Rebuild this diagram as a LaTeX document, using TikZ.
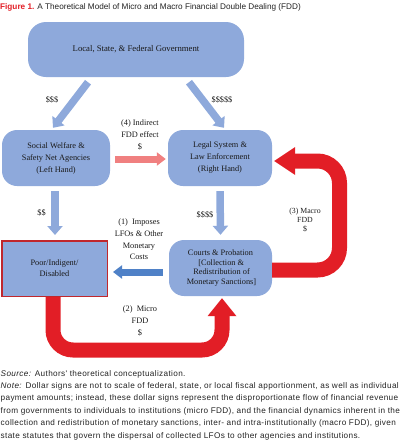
\documentclass[tikz,border=0pt]{standalone}
\usepackage{fontspec}
\setmainfont{Liberation Serif}
\newfontfamily\capfont{Liberation Sans}
\newfontfamily\notefont[LetterSpace=4.3]{Liberation Sans}
\usetikzlibrary{arrows.meta,calc}
\definecolor{boxblue}{RGB}{142,169,219}
\definecolor{fddred}{RGB}{226,30,38}
\definecolor{pinkarr}{RGB}{240,128,128}
\definecolor{darkblue}{RGB}{79,129,199}
\definecolor{borderred}{RGB}{192,39,45}
\definecolor{notegray}{RGB}{35,35,35}
\begin{document}
\begin{tikzpicture}[x=1pt,y=-1pt,
  box/.style={fill=boxblue, draw=none, align=center, inner sep=0pt,
    font=\fontsize{8.3}{12}\selectfont, text=black!90},
  rbox/.style={box, rounded corners=15pt},
  lab/.style={align=center, inner sep=0pt, font=\fontsize{8.3}{11.8}\selectfont, text=black!90},
  bluearr/.style={line width=7.5pt, draw=boxblue, -{Triangle[width=15pt,length=9pt]}},
  pinkarrow/.style={line width=7pt, draw=pinkarr, -{Triangle[width=13pt,length=9pt]}},
  darkarrow/.style={line width=7pt, draw=darkblue, -{Triangle[width=13pt,length=9pt]}},
  redarrow/.style={line width=15pt, draw=fddred, rounded corners=22pt},
  noteline/.style={anchor=base west, inner sep=0pt, font=\notefont\fontsize{8.2}{10}\selectfont, text=notegray},
]
\useasboundingbox (0,0) rectangle (406,440);

% title
\node[anchor=base west, inner sep=0pt, font=\capfont\fontsize{8.2}{10}\selectfont, text=notegray] (title) at (0,9)
  {\textcolor{fddred}{\bfseries Figure 1.} A Theoretical Model of Micro and Macro Financial Double Dealing (FDD)};

% boxes
\node[rbox, rounded corners=18pt, minimum width=216pt, minimum height=55pt, font=\fontsize{8.7}{12}\selectfont] (gov) at (136,49.5)
  {Local, State, \& Federal Government};
\node[rbox, minimum width=108pt, minimum height=56pt] (sw) at (56,158)
  {Social Welfare \&\\Safety Net Agencies\\(Left Hand)};
\node[rbox, minimum width=104pt, minimum height=56pt] (legal) at (220,158)
  {Legal System \&\\Law Enforcement\\(Right Hand)};
\node[box, draw=borderred, line width=1.5pt, minimum width=105.5pt, minimum height=55.5pt,
  font=\fontsize{8.3}{11}\selectfont] (poor) at (54.5,268.5)
  {Poor/Indigent/\\Disabled};
\node[rbox, minimum width=103pt, minimum height=56pt, font=\fontsize{8.3}{9.7}\selectfont] (courts) at (220.5,268)
  {Courts \& Probation\\ \,[Collection \&\\ \ Redistribution of\\ \ Monetary Sanctions]};

% light blue arrows
\draw[bluearr] ($(gov.south)+(-48,5)$) -- ($(sw.north)+(-3,-2)$);
\draw[bluearr] ($(gov.south)+(53,5)$) -- ($(legal.north)+(4,-2)$);
\draw[bluearr] ($(sw.south)+(-1,5)$) -- ($(poor.north)+(0.5,-5)$);
\draw[bluearr] ($(legal.south)+(0,5)$) -- ($(courts.north)+(0,-5)$);

% pink and dark blue arrows
\draw[pinkarrow] ($(sw.east)+(5,1)$) -- ($(legal.west)+(-2,1)$);
\draw[darkarrow] ($(courts.west)+(-6,4)$) -- ($(poor.east)+(5,3.5)$);

% red arrows
\coordinate (m1) at (339.5,270);
\coordinate (m2) at (339.5,161);
\draw[redarrow] ($(courts.east)+(0,2)$) -- (m1) -- (m2)
  -- ($(legal.east)+(22,3)$);
\fill[fddred] ($(legal.east)+(2,3)$) -- ($(legal.east)+(23,-11)$) -- ($(legal.east)+(23,17)$) -- cycle;
\coordinate (b1) at (53,350);
\coordinate (b2) at (222,350);
\draw[redarrow, rounded corners=20pt] ($(poor.south)+(-1.5,0)$) -- (b1) -- (b2)
  -- ($(courts.south)+(1.5,19)$);
\fill[fddred] ($(courts.south)+(1.5,2)$) -- ($(courts.south)+(-13,20)$) -- ($(courts.south)+(16,20)$) -- cycle;

% labels
\node[lab] (l4) at (140,135) {(4) Indirect\\FDD effect\\\$};
\node[lab, font=\fontsize{8.3}{11.7}\selectfont] (l1) at (139,239.5) {(1)~ Imposes\\LFOs \& Other\\Monetary\\Costs};
\node[lab, font=\fontsize{8.3}{12}\selectfont] (l2) at (140,321) {(2)~ Micro\\FDD\\\$};
\node[lab, font=\fontsize{7.8}{9}\selectfont] (l3) at (305,220) {(3) Macro\\FDD\\\$};
\node[lab] (d3) at (52,100) {\$\$\$};
\node[lab] (d5) at (222,100) {\$\$\$\$\$};
\node[lab] (d2) at (41.5,213) {\$\$};
\node[lab] (d4) at (205,214.5) {\$\$\$\$};

% notes
\node[noteline] (n1) at (0.5,376) {\textit{Source:} Authors' theoretical conceptualization.};
\node[noteline] (n2) at (0.5,388.4) {\textit{Note:} Dollar signs are not to scale of federal, state, or local fiscal apportionment, as well as individual};
\node[noteline] (n3) at (0.5,400.8) {payment amounts; instead, these dollar signs represent the disproportionate flow of financial revenue};
\node[noteline] (n4) at (0.5,413.2) {from governments to individuals to institutions (micro FDD), and the financial dynamics inherent in the};
\node[noteline] (n5) at (0.5,425.6) {collection and redistribution of monetary sanctions, inter- and intra-institutionally (macro FDD), given};
\node[noteline] (n6) at (0.5,438) {state statutes that govern the dispersal of collected LFOs to other agencies and institutions.};
\end{tikzpicture}
\end{document}
